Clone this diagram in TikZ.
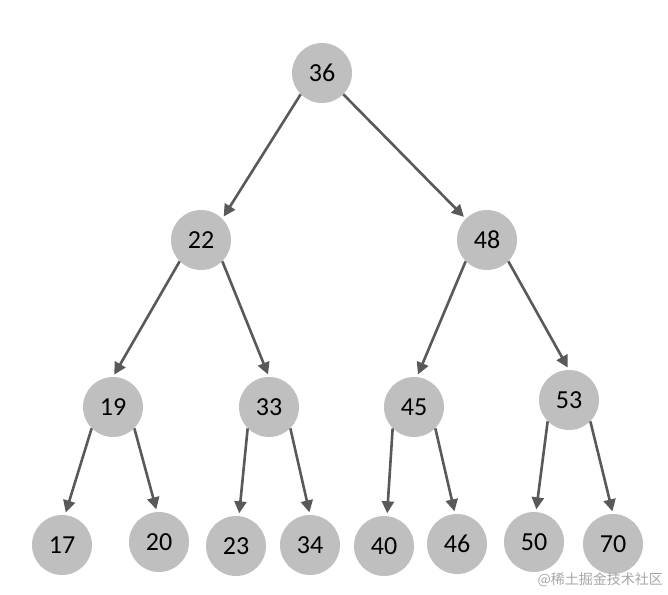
\documentclass[tikz,border=0pt]{standalone}
\usepackage{fontspec}
\setmainfont{Carlito}
\newfontfamily\cjk{Noto Sans CJK SC}
\usetikzlibrary{arrows.meta}
\definecolor{nodefill}{HTML}{BFBFBF}
\definecolor{edgecol}{HTML}{595959}
\begin{document}
\begin{tikzpicture}[x=1pt,y=-1pt,
  tnode/.style={circle,fill=nodefill,minimum size=60pt,inner sep=0pt,font=\fontsize{26}{26}\selectfont},
  edge/.style={draw=edgecol,line width=2.6pt,-{Triangle[length=12pt,width=12pt]},shorten >=2.5pt}]
\useasboundingbox (0,0) rectangle (668,594);
\node[tnode] (n36) at (322,73) {36};
\node[tnode] (n22) at (201,240) {22};
\node[tnode] (n48) at (487,240) {48};
\node[tnode] (n19) at (113,407) {19};
\node[tnode] (n33) at (269,407) {33};
\node[tnode] (n45) at (414,407) {45};
\node[tnode] (n53) at (569,400) {53};
\node[tnode] (n17) at (62,545) {17};
\node[tnode] (n20) at (159,542) {20};
\node[tnode] (n23) at (236,546) {23};
\node[tnode] (n34) at (310,545) {34};
\node[tnode] (n40) at (384,546) {40};
\node[tnode] (n46) at (457,544) {46};
\node[tnode] (n50) at (534,542) {50};
\node[tnode] (n70) at (613,544) {70};
\draw[edge] (n36.south west) -- (n22.north east);
\draw[edge] (n36.south east) -- (n48.north west);
\draw[edge] (n22.south west) -- (n19.north);
\draw[edge] (n22.south east) -- (n33.north);
\draw[edge] (n48.south west) -- ([xshift=3pt]n45.north);
\draw[edge] (n48.south east) -- (n53.north);
\draw[edge] (n19.south west) -- ([xshift=3pt]n17.north);
\draw[edge] (n19.south east) -- ([xshift=-2pt]n20.north);
\draw[edge] (n33.south west) -- ([xshift=3pt]n23.north);
\draw[edge] (n33.south east) -- (n34.north);
\draw[edge] (n45.south west) -- ([xshift=3pt]n40.north);
\draw[edge] (n45.south east) -- ([xshift=-2pt]n46.north);
\draw[edge] (n53.south west) -- ([xshift=2pt]n50.north);
\draw[edge] (n53.south east) -- (n70.north);
\node[font=\cjk\fontsize{14}{14}\selectfont,text=black!35,anchor=east,inner sep=0pt] (wm) at (663,580) {@稀土掘金技术社区};
\end{tikzpicture}
\end{document}
